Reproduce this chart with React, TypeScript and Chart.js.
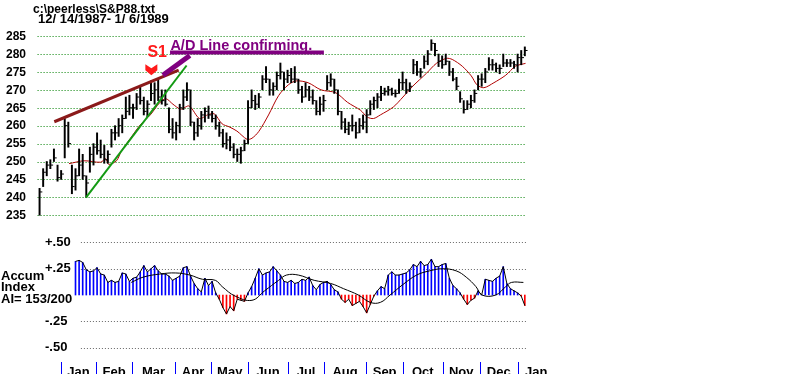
import React, { useEffect, useRef } from "react";
import { Chart, registerables } from "chart.js";
Chart.register(...registerables);

// ---- price bars (every ~2 trading days, 12/14/1987 - 1/6/1989) ----
const highs = [242.5,248,250,250.5,253.5,249,247.5,262,261,249,248,253.5,252,246,254,255,258,256,254.5,253,259,260,262,263,268,268.5,266,269,271,268,267,272.5,272,273,270,270,265,262,261,266,270,272,270,261,262,264,265,265.5,264,263,261,259,258,257,255,253.5,254,256,267,270,268.5,269,274,276.5,273,272,275,277.5,275,275.5,276,276.5,273,271,272,271,270,267,268,268.5,274,274.5,273,270,264,262,261,263,261,262,263,264.5,267,268,269,271,270.5,271,270.5,270,273,275,273,272,278.5,278,276,279.5,281,284,283,280,279.5,280,278,276,273.5,269.5,267,267,268.5,270,274,274.5,276,279,278.5,277.5,277,280,278.5,278.5,278,280,281,282];
const lows = [235,243,246,248,250,244.5,245,251,254,241,242,246,245,240,247,249,252,251,249.5,249.5,254,256,257,258,262,263,262,264.5,266,263,262.5,267,266,267,266,265.5,258,256.5,256,258,264.5,267,260,256,257,259,261,262,261,259,257,254,253.5,253,251,250,249.5,253,255,265,264.5,265,270,272,268.5,268.5,270,273,270,272,272,272,269,266.5,268,267,266,263,263,264,270,271,269,263,259,258,257.5,258.5,256.5,258,259,258,263,264.5,265,267,268.5,268.5,268.5,268,269,270,269,269.5,274.5,274,273.5,276,277,281,279.5,276.5,276,277,274,272.5,270,266.5,263.5,264.5,265,266.5,270,271,272,275.5,275.5,275,274.5,276.5,276.5,276.5,276,275,277,279.5];
const closes = [241.5,247,249,249,251,245.5,246.5,260,255,243,246,249,246,244,252,254,253,252,250.5,252,258,258,260,262,264,265,265,268,267,264,266,269,270,268,267,266,259,258,260,265,268,270,261,258,260,263,264,263,262,260,258,255,256,254,252,252,253,255,265,267,266,268,273,273,270,271,274,275,273,274,273,273,270,268,270,268,267,264,266,267,272,273,270,264,261,259,260,260,258,260,261,263,266,267,268,269,269.5,270,269,269,272,272,270,271,277,275,275,278,280,283,281,278,277,278,275,273,271,267.5,264.5,266,267,269,273,273,275,277,277,276,276,277.5,277.5,277.5,277,279,279,281];

// ---- moving average of price ----
const maIdx = [8.2,12.4,17.0,18.4,19.2,21.4,22.8,25.3,28.0,30.8,33.5,35.2,37.1,39.3,41.6,44.5,46.7,48.6,50.8,52.7,54.9,57.7,59.1,61.0,63.7,66.5,69.2,71.4,74.7,78.3,82.4,85.7,89.3,91.2,92.9,94.8,98.4,101.1,103.8,107.7,110.4,113.2,114.8,117.6,120.1,121.7,123.6,126.4,129.7,132.4,135.2];
const maVal = [249.4,250.2,249.8,250.8,249.2,250.2,253,256.5,260.2,263,266.5,267.5,266,264.6,265.5,262,263,263.3,260.5,259.7,258.5,256.2,256.5,258.4,263,268.4,271.4,272.5,272,270,269.2,266.5,264.3,262.4,262,263,265.2,268,271,274.7,277.4,278.8,278.5,276.6,273.9,271.4,270.6,272,274.1,276.6,277.4];

// ---- trend lines ----
const resistIdx = [4.1, 38.7];
const resistVal = [261.1, 275.5];
const supportIdx = [12.9, 40.9];
const supportVal = [239.9, 276.8];
const adLineIdx = [36.3, 79.1];
const adLineVal = [280.4, 280.4];
const adArrowIdx = [41.8, 34.3];
const adArrowVal = [279.6, 274.1];

// ---- accumulation index ----
const aiStart = 10;
const aiValues = [0.32,0.33,0.31,0.24,0.22,0.23,0.26,0.20,0.19,0.12,0.14,0.12,0.13,0.21,0.20,0.13,0.16,0.17,0.22,0.28,0.22,0.25,0.28,0.23,0.20,0.20,0.18,0.14,0.16,0.18,0.26,0.27,0.18,0.11,0.06,0.03,0.16,0.09,0.13,0.02,-0.04,-0.12,-0.18,-0.11,-0.15,-0.04,-0.05,-0.06,0.02,0.08,0.16,0.25,0.19,0.21,0.22,0.27,0.23,0.19,0.13,0.12,0.14,0.11,0.12,0.15,0.14,0.17,0.09,0.05,0.10,0.12,0.13,0.10,0.05,0.03,-0.04,-0.07,-0.04,-0.10,-0.08,-0.06,-0.11,-0.17,-0.09,-0.01,0.04,0.08,0.06,0.19,0.22,0.19,0.19,0.20,0.21,0.24,0.29,0.27,0.32,0.28,0.29,0.34,0.27,0.27,0.29,0.30,0.16,0.09,0.06,0.02,-0.04,-0.09,-0.05,-0.03,0.04,0.00,0.15,0.14,0.13,0.16,0.18,0.27,0.11,0.06,0.04,0.02,-0.01,-0.10];
const aiMaIdx = [25.5,28.8,33.5,37.9,41.8,45.3,48.9,50.8,54.4,59.1,62.6,66.5,68.7,72.0,76.4,81.0,84.6,88.7,92.0,94.8,97.5,101.1,104.9,108.5,112.1,115.9,118.7,121.4,123.1,126.9,129.7,131.3,134.6];
const aiMaVal = [0.12,0.17,0.20,0.21,0.19,0.15,0.14,0.08,-0.01,-0.05,0.04,0.14,0.19,0.19,0.14,0.11,0.06,0,-0.07,-0.07,0,0.10,0.19,0.23,0.25,0.23,0.17,0.08,0,0,0.08,0.12,0.12];

// ---- axes ----
const priceTicks = [285,280,275,270,265,260,255,250,245,240,235];
const aiTicks = [0.5,0.25,-0.25,-0.5];
const aiTickLabels = ["+.50","+.25","-.25","-.50"];
const monthLabels = ["Jan","Feb","Mar","Apr","May","Jun","Jul","Aug","Sep","Oct","Nov","Dec","Jan"];
const monthStarts = [6.0,15.7,25.8,37.6,47.8,58.0,69.2,79.1,90.9,101.1,112.1,122.5,133.0,143.4];

const titleLine1 = "c:\\peerless\\S&P88.txt";
const titleLine2 = "12/ 14/1987- 1/ 6/1989";
const FONT = '"Liberation Sans", Arial, sans-serif';

const overlay = {
  id: "overlay",
  beforeDatasetsDraw(chart: any) {
    const { ctx } = chart;
    const xs = chart.scales.x, ys = chart.scales.y, ys2 = chart.scales.y2;
    ctx.save();
    ctx.lineWidth = 1;
    ctx.setLineDash([1, 2]);
    ctx.strokeStyle = "#008000";
    const gx0 = xs.getPixelForValue(-0.55), gx1 = xs.getPixelForValue(135.3);
    priceTicks.forEach((v) => {
      const py = Math.round(ys.getPixelForValue(v)) + 0.5;
      ctx.beginPath(); ctx.moveTo(gx0, py); ctx.lineTo(gx1, py); ctx.stroke();
    });
    ctx.strokeStyle = "#666";
    const ax0 = xs.getPixelForValue(11.5);
    aiTicks.forEach((v) => {
      const py = Math.round(ys2.getPixelForValue(v)) + 0.5;
      ctx.beginPath(); ctx.moveTo(ax0, py); ctx.lineTo(gx1, py); ctx.stroke();
    });
    ctx.restore();
  },
  afterDatasetsDraw(chart: any) {
    const { ctx } = chart;
    const xs = chart.scales.x, ys = chart.scales.y, ys2 = chart.scales.y2;
    ctx.save();
    ctx.fillStyle = "#000";
    // titles
    ctx.textAlign = "left"; ctx.textBaseline = "alphabetic";
    ctx.font = "bold 12px " + FONT;
    ctx.fillText(titleLine1, 33, 12.5);
    ctx.font = "bold 13px " + FONT;
    ctx.fillText(titleLine2, 38, 22.7);
    // price labels
    ctx.font = "bold 12px " + FONT;
    ctx.textAlign = "right"; ctx.textBaseline = "middle";
    priceTicks.forEach((v) => ctx.fillText(String(v), 26, ys.getPixelForValue(v) + 0.5));
    // AI labels
    ctx.font = "bold 13px " + FONT;
    ctx.textAlign = "left";
    aiTicks.forEach((v, k) => ctx.fillText(aiTickLabels[k], 45, ys2.getPixelForValue(v)));
    ctx.textBaseline = "alphabetic";
    ctx.fillText("Accum", 1, 279.5);
    ctx.fillText("Index", 1, 291);
    ctx.fillText("AI= 153/200", 1, 302.5);
    // months
    ctx.strokeStyle = "#0000ff"; ctx.lineWidth = 1;
    monthStarts.slice(0, monthLabels.length).forEach((m) => {
      const px = Math.round(xs.getPixelForValue(m)) + 0.5;
      ctx.beginPath(); ctx.moveTo(px, 362); ctx.lineTo(px, 374); ctx.stroke();
    });
    ctx.textAlign = "center";
    monthLabels.forEach((lab, k) => {
      const cx = xs.getPixelForValue((monthStarts[k] + monthStarts[k + 1]) / 2);
      ctx.fillText(lab, cx, 375.5);
    });
    // S1 signal
    ctx.fillStyle = "#ff1a1a";
    ctx.font = "bold 16px " + FONT;
    ctx.textAlign = "left";
    ctx.fillText("S1", xs.getPixelForValue(30.0), ys.getPixelForValue(279.2));
    const ax = xs.getPixelForValue(31.1), ay = ys.getPixelForValue(274.1);
    ctx.beginPath();
    ctx.moveTo(ax - 6, ay - 11);
    ctx.lineTo(ax, ay - 7);
    ctx.lineTo(ax + 6, ay - 11);
    ctx.lineTo(ax + 6, ay - 5);
    ctx.lineTo(ax, ay);
    ctx.lineTo(ax - 6, ay - 5);
    ctx.closePath();
    ctx.fill();
    // A/D text
    ctx.fillStyle = "#800080";
    ctx.font = "bold 14.5px " + FONT;
    ctx.fillText("A/D Line confirming.", xs.getPixelForValue(36.4), ys.getPixelForValue(281.0));
    ctx.restore();
  },
};

export default function App() {
  const ref = useRef<HTMLCanvasElement>(null);
  useEffect(() => {
    if (!ref.current) return;
    const pts = (ix: number[], vs: number[]) => ix.map((x, k) => ({ x, y: vs[k] }));
    const aiPts = aiValues.map((v, k) => ({ x: aiStart + k, y: v }));
    const chart = new Chart(ref.current, {
      type: "line",
      data: {
        datasets: [
          { type: "line", data: pts(adLineIdx, adLineVal), borderColor: "#800080", borderWidth: 4, pointRadius: 0, yAxisID: "y", order: 1 },
          { type: "line", data: pts(adArrowIdx, adArrowVal), borderColor: "#800080", borderWidth: 5, pointRadius: 0, yAxisID: "y", order: 1 },
          { type: "line", data: pts(supportIdx, supportVal), borderColor: "#139a13", borderWidth: 2, pointRadius: 0, yAxisID: "y", order: 2 },
          { type: "line", data: pts(resistIdx, resistVal), borderColor: "#8b1a1a", borderWidth: 3, pointRadius: 0, yAxisID: "y", order: 2 },
          { type: "line", data: pts(maIdx, maVal), borderColor: "#b00000", borderWidth: 1, pointRadius: 0, tension: 0.3, yAxisID: "y", order: 4 },
          { type: "scatter", data: closes.map((c, i) => ({ x: i + 0.35, y: c })), borderColor: "#000", backgroundColor: "#000", pointStyle: "line", pointRadius: 1.5, borderWidth: 1, showLine: false, yAxisID: "y", order: 3 } as any,
          { type: "bar", data: highs.map((h, i) => ({ x: i, y: [lows[i], h] })), backgroundColor: "#000", borderWidth: 0, barThickness: 1.3, grouped: false, yAxisID: "y", order: 3 } as any,
          { type: "line", data: pts(aiMaIdx, aiMaVal), borderColor: "#000", borderWidth: 1, pointRadius: 0, tension: 0.4, yAxisID: "y2", order: 5 },
          { type: "line", data: aiPts, borderColor: "#000", borderWidth: 1, pointRadius: 0, tension: 0, yAxisID: "y2", order: 6 },
          { type: "bar", data: aiPts, backgroundColor: aiValues.map((v) => (v >= 0 ? "#0000ff" : "#ff0000")), borderWidth: 0, barThickness: 1, grouped: false, yAxisID: "y2", order: 7 } as any,
        ],
      },
      options: {
        animation: false,
        responsive: false,
        devicePixelRatio: 1,
        layout: { padding: 0 },
        plugins: { legend: { display: false }, tooltip: { enabled: false } },
        events: [],
        scales: {
          x: { type: "linear", display: false, offset: false, min: -35 / 3.64, max: 765 / 3.64 },
          y: { type: "linear", display: false, min: 285 - 342 / 3.68, max: 285 + 32 / 3.68 },
          y2: { type: "linear", display: false, min: -76 / 108, max: 298 / 108 },
        },
      },
      plugins: [overlay],
    } as any);
    return () => chart.destroy();
  }, []);
  return (
    <div style={{ position: "absolute", left: 0, top: 0, width: 800, height: 374, background: "#fff" }}>
      <canvas ref={ref} width={800} height={374} style={{ display: "block" }} />
    </div>
  );
}
